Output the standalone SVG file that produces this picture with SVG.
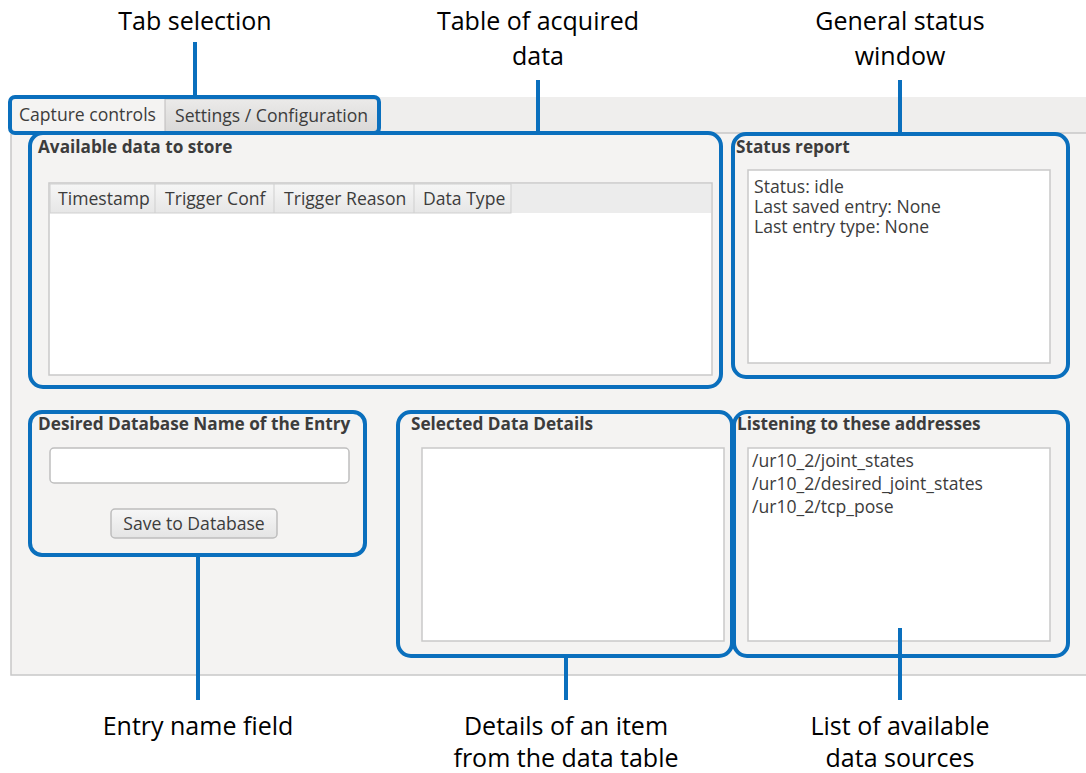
<svg xmlns="http://www.w3.org/2000/svg" width="1086" height="773" viewBox="0 0 1086 773">
<defs>
<linearGradient id="tabg" x1="0" y1="0" x2="0" y2="1"><stop offset="0" stop-color="#ebeae9"/><stop offset="1" stop-color="#d9d8d7"/></linearGradient>
<linearGradient id="hdrg" x1="0" y1="0" x2="0" y2="1"><stop offset="0" stop-color="#f6f6f6"/><stop offset="1" stop-color="#e6e6e6"/></linearGradient>
<linearGradient id="btng" x1="0" y1="0" x2="0" y2="1"><stop offset="0" stop-color="#f7f7f7"/><stop offset="1" stop-color="#e4e4e4"/></linearGradient>
</defs>
<style>
.lbl{font-family:"Open Sans","Liberation Sans",sans-serif;font-size:25px;fill:#000;text-anchor:middle}
.w{font-family:"Open Sans","DejaVu Sans",sans-serif;font-size:17.6px;fill:#3c3c3c}
.wb{font-family:"Open Sans","DejaVu Sans",sans-serif;font-size:17.2px;font-weight:bold;fill:#3c3c3c}
.hl{fill:none;stroke:#0a6fbd;stroke-width:4}
.con{stroke:#0a6fbd;stroke-width:4;fill:none}
.white{fill:#ffffff;stroke:#c9c9c9;stroke-width:1.5}
</style>
<rect width="1086" height="773" fill="#ffffff"/>
<g id="window">
<rect x="10" y="97" width="1076" height="36" fill="#efeeed"/>
<rect x="11" y="133" width="1080" height="542" fill="#f4f3f2" stroke="#c8c8c8" stroke-width="1.5"/>
<rect x="10" y="99" width="155" height="35" fill="#f4f3f2"/>
<rect x="165" y="99" width="213" height="34" fill="url(#tabg)" stroke="#bdbcbb" stroke-width="1"/>
<text class="w" x="19" y="121">Capture controls</text>
<text class="w" x="175" y="122">Settings / Configuration</text>
</g>
<g id="tab-selection">
<rect class="hl" x="10" y="97" width="369" height="36" rx="5"/>
</g>
<g id="available-data">
<text class="wb" x="38" y="153">Available data to store</text>
<rect class="white" x="49" y="183" width="663" height="192"/>
<rect x="50" y="184" width="661" height="29" fill="#ececec"/>
<rect x="50" y="184" width="461" height="29" fill="url(#hdrg)" stroke="#cfcfcf" stroke-width="1"/>
<line x1="155" y1="184" x2="155" y2="213" stroke="#cfcfcf"/>
<line x1="274" y1="184" x2="274" y2="213" stroke="#cfcfcf"/>
<line x1="414" y1="184" x2="414" y2="213" stroke="#cfcfcf"/>
<text class="w" x="58" y="205">Timestamp</text>
<text class="w" x="165" y="205">Trigger Conf</text>
<text class="w" x="284" y="205">Trigger Reason</text>
<text class="w" x="423" y="205">Data Type</text>
<rect class="hl" x="30" y="133" width="691" height="254" rx="13"/>
</g>
<g id="status-report">
<text class="wb" x="736" y="153">Status report</text>
<rect class="white" x="748" y="170" width="302" height="193"/>
<text class="w" x="754" y="193">Status: idle</text>
<text class="w" x="754" y="213">Last saved entry: None</text>
<text class="w" x="754" y="233">Last entry type: None</text>
<rect class="hl" x="733" y="134" width="335" height="243" rx="13"/>
</g>
<g id="entry-name">
<text class="wb" x="38" y="430">Desired Database Name of the Entry</text>
<rect x="50" y="448" width="299" height="35" rx="4" fill="#ffffff" stroke="#bfbfbf" stroke-width="1.5"/>
<rect x="111" y="509" width="166" height="29" rx="4" fill="url(#btng)" stroke="#bdbdbd" stroke-width="1.5"/>
<text class="w" x="194" y="530" text-anchor="middle">Save to Database</text>
<rect class="hl" x="30" y="412" width="335" height="143" rx="12"/>
</g>
<g id="selected-details">
<text class="wb" x="411" y="430">Selected Data Details</text>
<rect class="white" x="422" y="448" width="302" height="193"/>
<rect class="hl" x="398" y="412" width="334" height="244" rx="13"/>
</g>
<g id="listening">
<text class="wb" x="737" y="430">Listening to these addresses</text>
<rect class="white" x="748" y="448" width="302" height="193"/>
<text class="w" x="752" y="467">/ur10_2/joint_states</text>
<text class="w" x="752" y="490">/ur10_2/desired_joint_states</text>
<text class="w" x="752" y="513">/ur10_2/tcp_pose</text>
<rect class="hl" x="734" y="412" width="334" height="244" rx="13"/>
</g>
<g id="connectors">
<line class="con" x1="195" y1="42" x2="195" y2="97"/>
<line class="con" x1="538" y1="80" x2="538" y2="133"/>
<line class="con" x1="900" y1="80" x2="900" y2="134"/>
<line class="con" x1="198" y1="555" x2="198" y2="700"/>
<line class="con" x1="566" y1="656" x2="566" y2="700"/>
<line class="con" x1="900" y1="628" x2="900" y2="700"/>
</g>
<g id="labels">
<text class="lbl" x="195" y="30">Tab selection</text>
<text class="lbl" x="538" y="30">Table of acquired</text>
<text class="lbl" x="538" y="65">data</text>
<text class="lbl" x="900" y="30">General status</text>
<text class="lbl" x="900" y="65">window</text>
<text class="lbl" x="198" y="735">Entry name field</text>
<text class="lbl" x="566" y="735">Details of an item</text>
<text class="lbl" x="566" y="767">from the data table</text>
<text class="lbl" x="900" y="735">List of available</text>
<text class="lbl" x="900" y="767">data sources</text>
</g>
</svg>
